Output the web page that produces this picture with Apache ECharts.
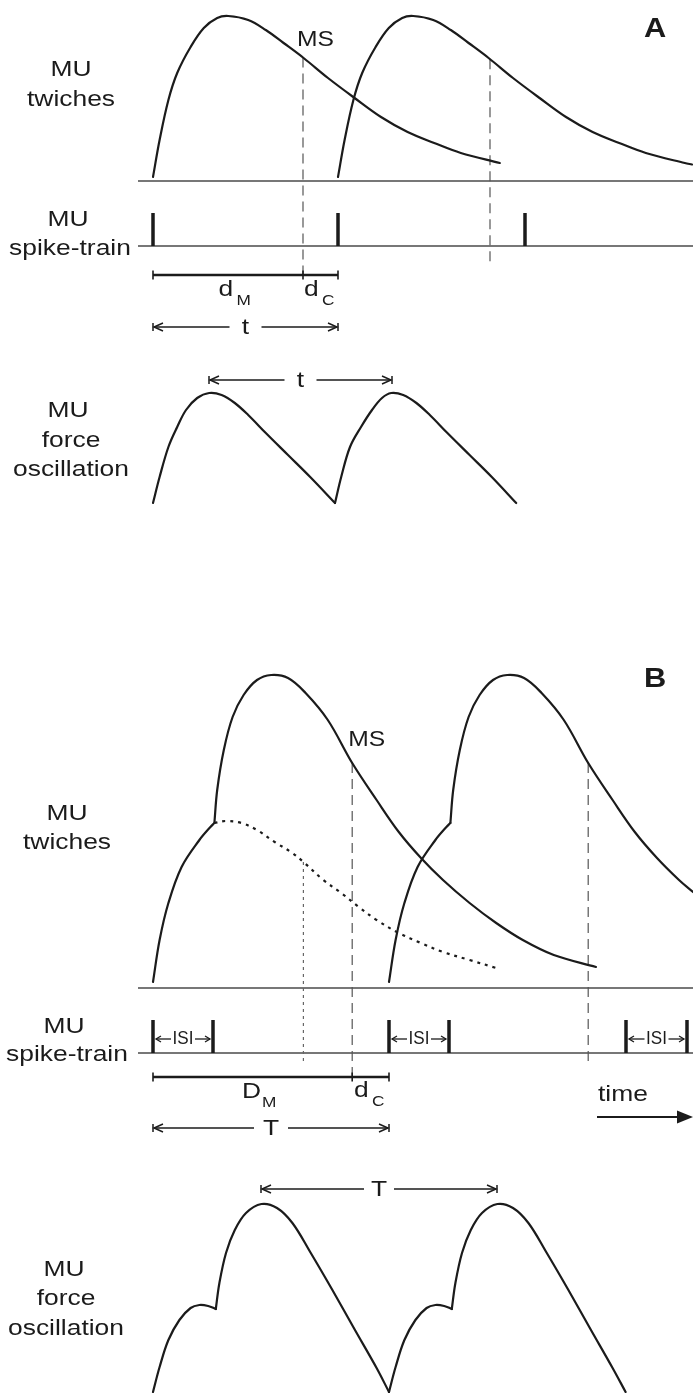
<!DOCTYPE html>
<html><head><meta charset="utf-8">
<script src="https://cdn.jsdelivr.net/npm/echarts@6/dist/echarts.min.js"></script>
<style>html,body{margin:0;padding:0;background:#fff}#c{width:693px;height:1393px}</style>
</head><body><div id="c"></div>
<script>
// ================= DATA (time in ms, amplitudes in arbitrary units) =================
// Panel A
const spikeTimesA = [0, 92.5, 186];
const msTimesA = [75, 168.5];
const twitchA1 = [[0,4],[3.3,41],[7.7,81],[12.1,108],[18.8,134],[25.4,153],[32.1,163],[37.6,165],[47.6,161],[56.4,151],[65.3,138],[75.3,123],[87.5,103],[100.8,83],[114,64],[127.3,49],[140.6,38],[153.9,28],[173.4,18]];
const twitchA2 = [[92.5,4],[95.8,41],[100.2,81],[104.6,108],[111.3,134],[117.9,153],[124.6,163],[130.1,165],[140.1,161],[148.9,151],[157.8,138],[167.8,123],[180,103],[193.3,83],[206.5,64],[219.8,49],[233.1,38],[246.4,28],[265.9,18],[269.5,16.5]];
const forceA1 = [[0,0],[3.3,26],[7.7,56],[12.1,76],[16.5,93],[22.1,105],[28.1,110],[34.3,108],[40.9,100],[47.6,88],[56.4,70],[67.5,48],[78.6,26],[91,0]];
const forceA2 = [[91,0],[94.1,26],[98.5,56],[104,76],[109.5,93],[114.5,105],[119.1,110],[125.1,108],[131.7,100],[138.4,88],[147.2,70],[158.3,48],[169.4,26],[181.6,0]];
const forcePeaksA = [28, 119.5];
// Panel B
const spikeTimesB = [0, 30, 118, 148, 236.5, 267];
const msTimesB = [99.6, 217.6];
const decayMarkB = 75.2;
const twitchB1Rise = [[0,6],[3.3,48],[7.7,85],[14.3,121],[23.2,148],[28.7,161],[30.7,165]];
const twitchB1Fused = [[30.7,165],[32.1,198],[35.4,238],[39.8,271],[45.3,293],[52,308],[59.1,313],[67.5,310],[76.3,295],[87.4,268],[99.6,225],[111.8,188],[122.9,156],[134,130],[145,108],[158.3,85],[171.6,65],[184.9,48],[200.4,33],[221.5,21]];
const twitchB1Decay = [[30.7,165],[36.5,167],[44.2,165],[52,158],[60.8,146],[69.7,135],[75.2,126],[85.2,108],[94.1,95],[102.9,81],[111.8,68],[122.9,55],[134,45],[145,36],[158.3,28],[171.6,20]];
const twitchB2Rise = [[118,6],[121.3,48],[125.7,85],[132.3,121],[141.2,148],[146.7,161],[148.7,165]];
const twitchB2Fused = [[148.7,165],[150.1,198],[153.4,238],[157.8,271],[163.3,293],[170,308],[177.1,313],[185.5,310],[194.3,295],[205.4,268],[217.6,225],[229.8,188],[240.9,156],[252,130],[263,108],[270,96]];
const forceB1a = [[0,0],[3.3,25],[7.7,52],[13.2,72],[18.8,84],[23.2,87],[27.6,86],[31.4,83]];
const forceB1b = [[31.4,83],[33.2,109],[36.5,139],[40.9,162],[46.5,179],[54.2,188],[62,184],[69.7,169],[78.6,140],[89.7,102],[100.7,63],[111.8,24],[118,0]];
const forceB2a = [[118,0],[121.3,25],[125.7,52],[131.2,72],[136.8,84],[141.2,87],[145.6,86],[149.4,83]];
const forceB2b = [[149.4,83],[151.2,109],[154.5,139],[158.9,162],[164.5,179],[172.2,188],[180,184],[187.7,169],[196.6,140],[207.7,102],[218.7,63],[229.8,24],[236.3,0]];
const forcePeaksB = [54, 172];
// Texts
const rowLabels = [['MU','twiches'], ['MU','spike-train'], ['MU','force','oscillation']];
const panelLetters = ['A','B'];
const msLabel = 'MS';
const periodLabels = ['t','T'];
const timeLabel = 'time';
const isiLabel = 'ISI';

// ================= LAYOUT =================
const W = 693, H = 1393;
const X_MIN = -76.5, X_MAX = 270;
const INK = '#1b1b1b', RULE = '#4a4a4a', DASH = '#555';
const FONT = '"Liberation Sans", Arial, Helvetica, sans-serif';
const BASE = {aTw:181, aSp:246, aFo:503, bTw:988, bSp:1053, bFo:1392};
const SPIKE_H = 33;

function interp(arr, t){
  for (let i=0;i<arr.length-1;i++){
    const a=arr[i], b=arr[i+1];
    if (t>=a[0] && t<=b[0]) return a[1] + (b[1]-a[1])*(t-a[0])/(b[0]-a[0]);
  }
  return arr[arr.length-1][1];
}

// smooth path through pixel points (chord-length Hermite / Catmull-Rom style)
function smoothPath(pts, s){
  const n = pts.length;
  const tan = pts.map((p,i) => {
    const a = pts[Math.max(i-1,0)], b = pts[Math.min(i+1,n-1)];
    return [b[0]-a[0], b[1]-a[1]];
  });
  let d = 'M' + pts[0][0] + ' ' + pts[0][1];
  for (let i=0;i<n-1;i++){
    const p = pts[i], q = pts[i+1];
    const len = Math.hypot(q[0]-p[0], q[1]-p[1]);
    const tp = tan[i], tq = tan[i+1];
    const lp = Math.hypot(tp[0],tp[1]) || 1, lq = Math.hypot(tq[0],tq[1]) || 1;
    const c1 = [p[0] + tp[0]/lp*len*s, p[1] + tp[1]/lp*len*s];
    const c2 = [q[0] - tq[0]/lq*len*s, q[1] - tq[1]/lq*len*s];
    d += ' C' + c1[0] + ' ' + c1[1] + ' ' + c2[0] + ' ' + c2[1] + ' ' + q[0] + ' ' + q[1];
  }
  return d;
}

function curve(data, base, style){
  const rows = data.map(d => [d[0], base - d[1]]);
  return {
    type:'custom', coordinateSystem:'cartesian2d', data: rows, clip:false, silent:true, z:3,
    renderItem: function(params, api){
      if (params.dataIndex !== 0) return null;
      const pts = rows.map(r => api.coord(r));
      return {type:'path', shape:{pathData: smoothPath(pts, 0.36)},
        style:Object.assign({stroke:INK, lineWidth:2.2, fill:null, lineCap:'round', lineJoin:'round'}, style || {})};
    }
  };
}

function renderItem(params, api){
  const X = t => api.coord([t, 0])[0];
  const Y = y => api.coord([0, y])[1];
  const g = [];
  const seg = (x1,y1,x2,y2,st) => g.push({type:'line', shape:{x1,y1,x2,y2}, style:Object.assign({stroke:INK, lineWidth:1.5, fill:null}, st||{})});
  const poly = (pts, st) => g.push({type:'polyline', shape:{points:pts}, style:Object.assign({stroke:INK, lineWidth:1.5, fill:null}, st||{})});
  const txt = (s, x, baseline, size, o) => {
    o = o || {};
    g.push({type:'text', x:x, y:baseline - 0.35*size, scaleX:(o.sx!=null?o.sx:1.2),
      style:{text:s, x:0, y:0, font:(o.bold?'bold ':'') + size + 'px ' + FONT, fill:o.fill||INK,
        align:o.align||'center', verticalAlign:'middle', textAlign:o.align||'center', textVerticalAlign:'middle'}});
  };
  const headL = (x,y,l,h,w) => poly([[x+l,y-h],[x,y],[x+l,y+h]], {lineWidth:w||1.5});
  const headR = (x,y,l,h,w) => poly([[x-l,y-h],[x,y],[x-l,y+h]], {lineWidth:w||1.5});
  const dimArrow = (t0, t1, yv, label, gap) => {
    const x0 = X(t0), x1 = X(t1), y = Y(yv), m = (x0+x1)/2;
    seg(x0, y-4, x0, y+4, {lineWidth:1.5});
    seg(x1, y-4, x1, y+4, {lineWidth:1.5});
    seg(x0+1, y, m-gap, y, {lineWidth:1.7});
    seg(m+gap, y, x1-1, y, {lineWidth:1.7});
    headL(x0+1, y, 9, 4);
    headR(x1-1, y, 9, 4);
    txt(label, m, y+8.5, 22);
  };
  const tickBar = (ts, yv) => {
    const y = Y(yv);
    seg(X(ts[0]), y, X(ts[ts.length-1]), y, {lineWidth:2.3});
    ts.forEach(t => seg(X(t), y-4.5, X(t), y+4.5, {lineWidth:1.6}));
  };
  const sub = (main, s, cx, baseline, big) => {
    const wMain = big ? 19 : 17, wSub = 16;
    const left = cx - (wMain + wSub)/2;
    txt(main, left, baseline, 22, {align:'left'});
    txt(s, left + wMain + 1, baseline + 8, 15, {align:'left', sx:1.15});
  };
  const rule = yv => seg(X(-7.5), Y(yv), X(270), Y(yv), {stroke:RULE, lineWidth:1.3});
  const spikes = (ts, base) => ts.forEach(t => seg(X(t), Y(base-SPIKE_H), X(t), Y(base), {lineWidth:3.5}));
  const dashed = (t, y0, y1) => seg(X(t), Y(y0), X(t), Y(y1), {stroke:DASH, lineWidth:1.2, lineDash:[10,6]});

  // ---------- Panel A ----------
  rule(BASE.aTw); rule(BASE.aSp);
  spikes(spikeTimesA, BASE.aSp);
  dashed(msTimesA[0], BASE.aTw - interp(twitchA1, msTimesA[0]), 276);
  dashed(msTimesA[1], BASE.aTw - interp(twitchA2, msTimesA[1]), 263);
  tickBar([spikeTimesA[0], msTimesA[0], spikeTimesA[1]], 275);
  sub('d', 'M', (X(spikeTimesA[0]) + X(msTimesA[0]))/2 + 7, 298, false);
  sub('d', 'C', (X(msTimesA[0]) + X(spikeTimesA[1]))/2, 298, false);
  dimArrow(spikeTimesA[0], spikeTimesA[1], 327, periodLabels[0], 16);
  dimArrow(forcePeaksA[0], forcePeaksA[1], 380, periodLabels[0], 16);
  txt(msLabel, X(msTimesA[0]) - 6, 48, 22, {align:'left', sx:1.12});
  txt(panelLetters[0], 655, 39, 28, {bold:true, sx:1.1});
  txt(rowLabels[0][0], 71, 78, 22); txt(rowLabels[0][1], 71, 108, 22);
  txt(rowLabels[1][0], 68, 228, 22); txt(rowLabels[1][1], 70, 257, 22);
  txt(rowLabels[2][0], 68, 419, 22); txt(rowLabels[2][1], 71, 449, 22); txt(rowLabels[2][2], 71, 478, 22);

  // ---------- Panel B ----------
  rule(BASE.bTw); rule(BASE.bSp);
  spikes(spikeTimesB, BASE.bSp);
  for (let i=0;i<spikeTimesB.length;i+=2){
    const xa = X(spikeTimesB[i]), xb = X(spikeTimesB[i+1]), m = (xa+xb)/2, y = Y(1039);
    seg(xa+3, y, m-12, y, {lineWidth:1.3});
    seg(m+12, y, xb-3, y, {lineWidth:1.3});
    headL(xa+3, y, 5, 3, 1.3);
    headR(xb-3, y, 5, 3, 1.3);
    txt(isiLabel, m, 1045, 18, {sx:0.95});
  }
  dashed(msTimesB[0], BASE.bTw - interp(twitchB1Fused, msTimesB[0]), 1077);
  dashed(msTimesB[1], BASE.bTw - interp(twitchB2Fused, msTimesB[1]), 1067);
  seg(X(decayMarkB), Y(BASE.bTw - interp(twitchB1Decay, decayMarkB)), X(decayMarkB), Y(1062), {stroke:'#666', lineWidth:1.2, lineDash:[3,4]});
  tickBar([spikeTimesB[0], msTimesB[0], spikeTimesB[2]], 1077);
  sub('D', 'M', (X(spikeTimesB[0]) + X(msTimesB[0]))/2 + 7, 1100, true);
  sub('d', 'C', (X(msTimesB[0]) + X(spikeTimesB[2]))/2, 1099, false);
  dimArrow(spikeTimesB[0], spikeTimesB[2], 1128, periodLabels[1], 17);
  dimArrow(forcePeaksB[0], forcePeaksB[1], 1189, periodLabels[1], 15);
  txt(msLabel, X(msTimesB[0]) - 4, 748, 22, {align:'left', sx:1.12});
  txt(panelLetters[1], 655, 689, 28, {bold:true, sx:1.1});
  txt(timeLabel, 598, 1103, 22, {align:'left'});
  seg(597, Y(1117), 679, Y(1117), {lineWidth:2});
  g.push({type:'polygon', shape:{points:[[677,Y(1117)-6.5],[693,Y(1117)],[677,Y(1117)+6.5]]}, style:{fill:INK, stroke:null}});
  txt(rowLabels[0][0], 67, 822, 22); txt(rowLabels[0][1], 67, 851, 22);
  txt(rowLabels[1][0], 64, 1035, 22); txt(rowLabels[1][1], 67, 1063, 22);
  txt(rowLabels[2][0], 64, 1278, 22); txt(rowLabels[2][1], 66, 1307, 22); txt(rowLabels[2][2], 66, 1337, 22);

  return {type:'group', children:g};
}

const series = [
  curve(twitchA1, BASE.aTw), curve(twitchA2, BASE.aTw),
  curve(forceA1, BASE.aFo), curve(forceA2, BASE.aFo),
  curve(twitchB1Rise, BASE.bTw), curve(twitchB1Fused, BASE.bTw),
  curve(twitchB1Decay, BASE.bTw, {lineWidth:2.2, lineDash:[3,5], lineCap:'butt'}),
  curve(twitchB2Rise, BASE.bTw), curve(twitchB2Fused, BASE.bTw),
  curve(forceB1a, BASE.bFo), curve(forceB1b, BASE.bFo),
  curve(forceB2a, BASE.bFo), curve(forceB2b, BASE.bFo),
  {type:'custom', coordinateSystem:'cartesian2d', renderItem:renderItem, data:[[0,0]], clip:false, silent:true, z:2}
];

const chart = echarts.init(document.getElementById('c'), null, {renderer:'canvas', width:W, height:H});
chart.setOption({
  animation:false,
  backgroundColor:'#fff',
  grid:{left:0, right:0, top:0, bottom:0},
  xAxis:{type:'value', min:X_MIN, max:X_MAX, show:false},
  yAxis:{type:'value', min:0, max:H, inverse:true, show:false},
  series: series
});
</script></body></html>
